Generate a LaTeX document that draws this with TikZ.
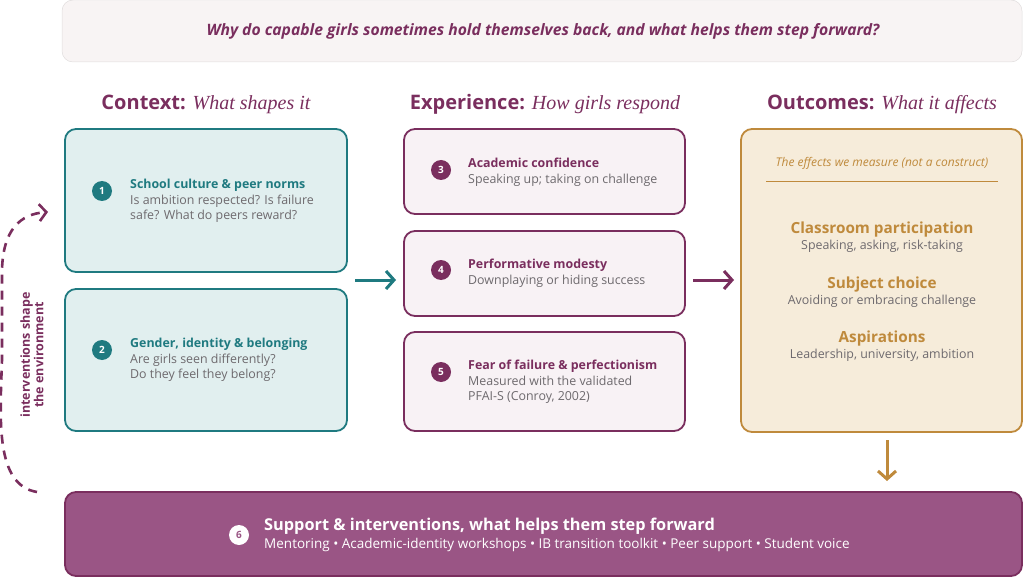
\documentclass[tikz,border=0pt]{standalone}
\usepackage{fontspec}
\setmainfont{Open Sans}
\newfontfamily\serifit{Liberation Serif}
\usetikzlibrary{arrows.meta}
\definecolor{teal}{HTML}{1F7A80}
\definecolor{tealfill}{HTML}{E1EFEF}
\definecolor{plum}{HTML}{7A2E5E}
\definecolor{plumfill}{HTML}{F8F2F5}
\definecolor{ochre}{HTML}{BF8A3C}
\definecolor{ochrefill}{HTML}{F6ECDA}
\definecolor{band}{HTML}{9A5585}
\definecolor{titlefill}{HTML}{F8F4F4}
\definecolor{greytxt}{HTML}{6E6A6E}
\tikzset{
 box/.style={draw, line width=1.8pt, rounded corners=11pt},
 num/.style={circle, fill=#1, text=white, inner sep=0pt, minimum size=20pt, font=\bfseries\fontsize{10}{10}\selectfont},
 txt/.style={anchor=west, align=left, inner sep=0pt, font=\fontsize{12.4}{15.5}\selectfont, text=greytxt},
 otxt/.style={align=center, inner sep=0pt, font=\fontsize{12.4}{15.5}\selectfont, text=greytxt},
 hd/.style={inner sep=0pt, font=\fontsize{20}{22}\selectfont, text=plum},
 flow/.style={line width=3pt, -{Straight Barb[length=8pt,width=18pt,line width=3pt]}},
}
\begin{document}
\begin{tikzpicture}[x=1pt,y=-1pt]
\useasboundingbox (0,0) rectangle (1024,577);
\node[box, draw=titlefill!80!gray, line width=0.5pt, fill=titlefill, minimum width=960pt, minimum height=62pt] (title) at (542,31) {};
\node[inner sep=0pt, text=plum, font=\bfseries\itshape\fontsize{15.7}{17}\selectfont] (tt) at (543,31) {Why do capable girls sometimes hold themselves back, and what helps them step forward?};

\node[hd] (h1) at (206,104) {\textbf{Context:} {\serifit\itshape What shapes it}};
\node[hd] (h2) at (545,104) {\textbf{Experience:} {\serifit\itshape How girls respond}};
\node[hd] (h3) at (882,104) {\textbf{Outcomes:} {\serifit\itshape What it affects}};

% context
\node[box, draw=teal, fill=tealfill, minimum width=282pt, minimum height=143pt] (c1) at (206,200.5) {};
\node[box, draw=teal, fill=tealfill, minimum width=282pt, minimum height=142pt] (c2) at (206,360) {};
\node[num=teal] (n1) at (102,191) {1};
\node[num=teal] (n2) at (102,350) {2};
\node[txt] (t1) at (130,201) {\textbf{\textcolor{teal}{School culture \& peer norms}}\\Is ambition respected? Is failure\\safe? What do peers reward?};
\node[txt] (t2) at (130,360) {\textbf{\textcolor{teal}{Gender, identity \& belonging}}\\Are girls seen differently?\\Do they feel they belong?};

% experience
\node[box, draw=plum, fill=plumfill, minimum width=281pt, minimum height=85pt] (e1) at (544.5,171.5) {};
\node[box, draw=plum, fill=plumfill, minimum width=281pt, minimum height=85pt] (e2) at (544.5,273.5) {};
\node[box, draw=plum, fill=plumfill, minimum width=281pt, minimum height=99pt] (e3) at (544.5,381.5) {};
\node[num=plum] (n3) at (441,170) {3};
\node[num=plum] (n4) at (441,270) {4};
\node[num=plum] (n5) at (441,372) {5};
\node[txt] (t3) at (468,172) {\textbf{\textcolor{plum}{Academic confidence}}\\Speaking up; taking on challenge};
\node[txt] (t4) at (468,273) {\textbf{\textcolor{plum}{Performative modesty}}\\Downplaying or hiding success};
\node[txt] (t5) at (468,382) {\textbf{\textcolor{plum}{Fear of failure \& perfectionism}}\\Measured with the validated\\PFAI-S (Conroy, 2002)};

% outcomes
\node[box, draw=ochre, fill=ochrefill, minimum width=281pt, minimum height=303pt] (o) at (881.5,280.5) {};
\node[inner sep=0pt, text=ochre, font=\itshape\fontsize{12}{13}\selectfont] (os) at (882,163) {The effects we measure (not a construct)};
\coordinate (la) at (766,181); \coordinate (lb) at (998,181);
\draw[ochre, line width=0.9pt] (la) -- (lb);
\node[otxt] (o1) at (882,237) {{\bfseries\fontsize{15.3}{18}\selectfont\textcolor{ochre}{Classroom participation}}\\Speaking, asking, risk-taking};
\node[otxt] (o2) at (882,292) {{\bfseries\fontsize{15.3}{18}\selectfont\textcolor{ochre}{Subject choice}}\\Avoiding or embracing challenge};
\node[otxt] (o3) at (882,346) {{\bfseries\fontsize{15.3}{18}\selectfont\textcolor{ochre}{Aspirations}}\\Leadership, university, ambition};

% bottom
\node[box, draw=plum, fill=band, minimum width=957pt, minimum height=84pt] (b) at (543.5,534) {};
\node[num=white, text=band] (n6) at (239,535) {6};
\node[anchor=west, align=left, inner sep=0pt, text=white, font=\fontsize{13.5}{17.5}\selectfont] (bt) at (264,535) {{\bfseries\fontsize{16.3}{19}\selectfont Support \& interventions, what helps them step forward}\\Mentoring • Academic-identity workshops • IB transition toolkit • Peer support • Student voice};

% flow arrows
\coordinate (a1s) at (355,280); \coordinate (a1e) at (396,280);
\draw[flow, teal] (a1s) -- (a1e);
\coordinate (a2s) at (693,280); \coordinate (a2e) at (734,280);
\draw[flow, plum] (a2s) -- (a2e);
\coordinate (a3s) at (887,440); \coordinate (a3e) at (887,481);
\draw[flow, ochre] (a3s) -- (a3e);

% dashed loop
\coordinate (ds) at (37,492); \coordinate (de) at (48,212);
\draw[plum, line width=2.6pt, dash pattern=on 9pt off 7pt, -{Straight Barb[length=7pt,width=17pt,line width=2.6pt]}]
 (ds) .. controls (-5,485) and (0,420) .. (2,360)
 -- (2,270) .. controls (3,230) and (20,214) .. (de);
\node[rotate=90, align=center, inner sep=0pt, text=plum, font=\bfseries\fontsize{12.5}{13.5}\selectfont] (lt) at (32,355) {interventions shape\\the environment};
\end{tikzpicture}
\end{document}
